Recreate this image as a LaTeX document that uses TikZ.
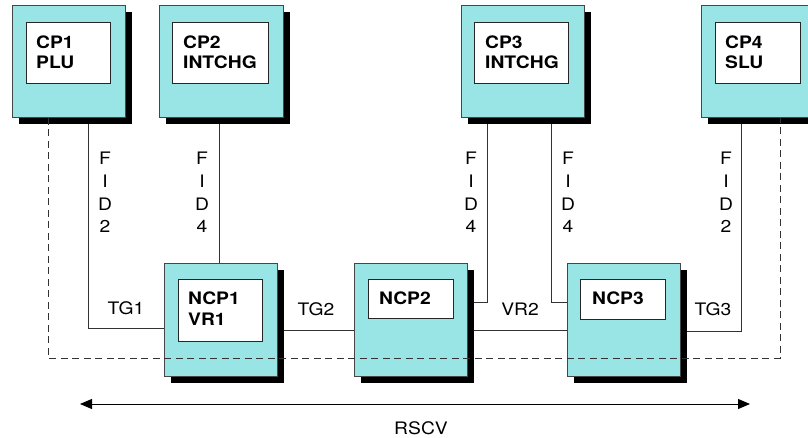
\documentclass[tikz,border=0pt]{standalone}
\usepackage{fontspec}
\setmainfont{TeX Gyre Heros}[FakeStretch=1.12]
\usetikzlibrary{shadows,arrows.meta,backgrounds}
\definecolor{boxcyan}{RGB}{153,229,229}
\definecolor{edgegray}{RGB}{70,70,70}

\begin{document}
\begin{tikzpicture}[x=1pt,y=-1pt,
  outerbox/.style={draw=edgegray, line width=0.8pt, fill=boxcyan, anchor=north west, inner sep=0pt,
    drop shadow={shadow xshift=7pt, shadow yshift=-7pt, opacity=1, fill=black}},
  innerbox/.style={draw=black!85, line width=1pt, fill=white, anchor=north west, inner sep=0pt},
  title/.style={font=\fontsize{17.2}{20}\selectfont\bfseries, anchor=base west, inner sep=0pt},
  lbl/.style={font=\fontsize{17.2}{20}\selectfont, anchor=base, inner sep=0pt},
  fid/.style={font=\fontsize{17.2}{22.7}\selectfont, align=center, anchor=north, inner sep=0pt},
  link/.style={draw=black!80, line width=0.8pt},
  vroute/.style={draw=black!80, line width=0.8pt, dash pattern=on 7pt off 4.5pt},
]
\useasboundingbox (0,0) rectangle (808,438);

% control points (CP) along the top
\node[outerbox, minimum width=113pt, minimum height=112pt] (cp1) at (12,5) {};
\node[innerbox, minimum width=84pt, minimum height=61pt] (cp1in) at (26,22) {};
\node[title] (cp1a) at (36,49) {CP1};
\node[title] (cp1b) at (36,69) {PLU};

\node[outerbox, minimum width=124pt, minimum height=112pt] (cp2) at (159,5) {};
\node[innerbox, minimum width=96pt, minimum height=61pt] (cp2in) at (172,22) {};
\node[title] (cp2a) at (183,49) {CP2};
\node[title] (cp2b) at (183,69) {INTCHG};

\node[outerbox, minimum width=123pt, minimum height=112pt] (cp3) at (461,5) {};
\node[innerbox, minimum width=94pt, minimum height=61pt] (cp3in) at (474,22) {};
\node[title] (cp3a) at (485,49) {CP3};
\node[title] (cp3b) at (485,69) {INTCHG};

\node[outerbox, minimum width=113pt, minimum height=112pt] (cp4) at (701,5) {};
\node[innerbox, minimum width=85pt, minimum height=61pt] (cp4in) at (715,22) {};
\node[title] (cp4a) at (725,49) {CP4};
\node[title] (cp4b) at (725,69) {SLU};

% network control points along the bottom
\node[outerbox, minimum width=113pt, minimum height=113pt] (ncp1) at (164,263) {};
\node[innerbox, minimum width=84pt, minimum height=62pt] (ncp1in) at (178,279) {};
\node[title] (ncp1a) at (188,304) {NCP1};
\node[title] (ncp1b) at (188,325) {VR1};

\node[outerbox, minimum width=113pt, minimum height=113pt] (ncp2) at (354,263) {};
\node[innerbox, minimum width=85pt, minimum height=39pt] (ncp2in) at (368,279) {};
\node[title] (ncp2a) at (379,304) {NCP2};

\node[outerbox, minimum width=113pt, minimum height=113pt] (ncp3) at (567,263) {};
\node[innerbox, minimum width=85pt, minimum height=40pt] (ncp3in) at (580,279) {};
\node[title] (ncp3a) at (592,304) {NCP3};

% bend points of the links
\coordinate (k1) at (88,328);
\coordinate (k2) at (219,0);
\coordinate (k3) at (0,330);
\coordinate (k4) at (487,302);
\coordinate (k5) at (551,302);
\coordinate (k7) at (741,331);
\coordinate (k8) at (48,358);
\coordinate (k9) at (780,358);

\begin{scope}[on background layer]
  \draw[link] (cp1.south -| k1) |- (ncp1.west |- k1);
  \draw[link] (cp2.south -| k2) -- (ncp1.north -| k2);
  \draw[link] (ncp1.east |- k3) -- (ncp2.west |- k3);
  \draw[link] (cp3.south -| k4) |- (ncp2.east |- k4);
  \draw[link] (cp3.south -| k5) |- (ncp3.west |- k5);
  \draw[link] (ncp2.east |- k3) -- (ncp3.west |- k3);
  \draw[link] (ncp3.east |- k7) -| (cp4.south -| k7);
\end{scope}

% end-to-end route
\draw[vroute] (cp1.south -| k8) |- (k9) -- (cp4.south -| k9);

% link labels
\node[fid] (fid1) at (105,152) {F\\I\\D\\2};
\node[fid] (fid2) at (202,152) {F\\I\\D\\4};
\node[fid] (fid3) at (471,152) {F\\I\\D\\4};
\node[fid] (fid4) at (568,152) {F\\I\\D\\4};
\node[fid] (fid5) at (726,152) {F\\I\\D\\2};

\node[lbl] (tg1) at (126,314) {TG1};
\node[lbl] (tg2) at (316,315) {TG2};
\node[lbl] (vr2) at (520,315) {VR2};
\node[lbl] (tg3) at (713,315) {TG3};

% session extent
\coordinate (ra) at (80,404);
\coordinate (rb) at (750,404);
\draw[link, draw=black, {Triangle[length=12pt,width=10pt]}-{Triangle[length=12pt,width=10pt]}] (ra) -- (rb);
\node[lbl] (rscv) at (421,434) {RSCV};
\end{tikzpicture}
\end{document}
